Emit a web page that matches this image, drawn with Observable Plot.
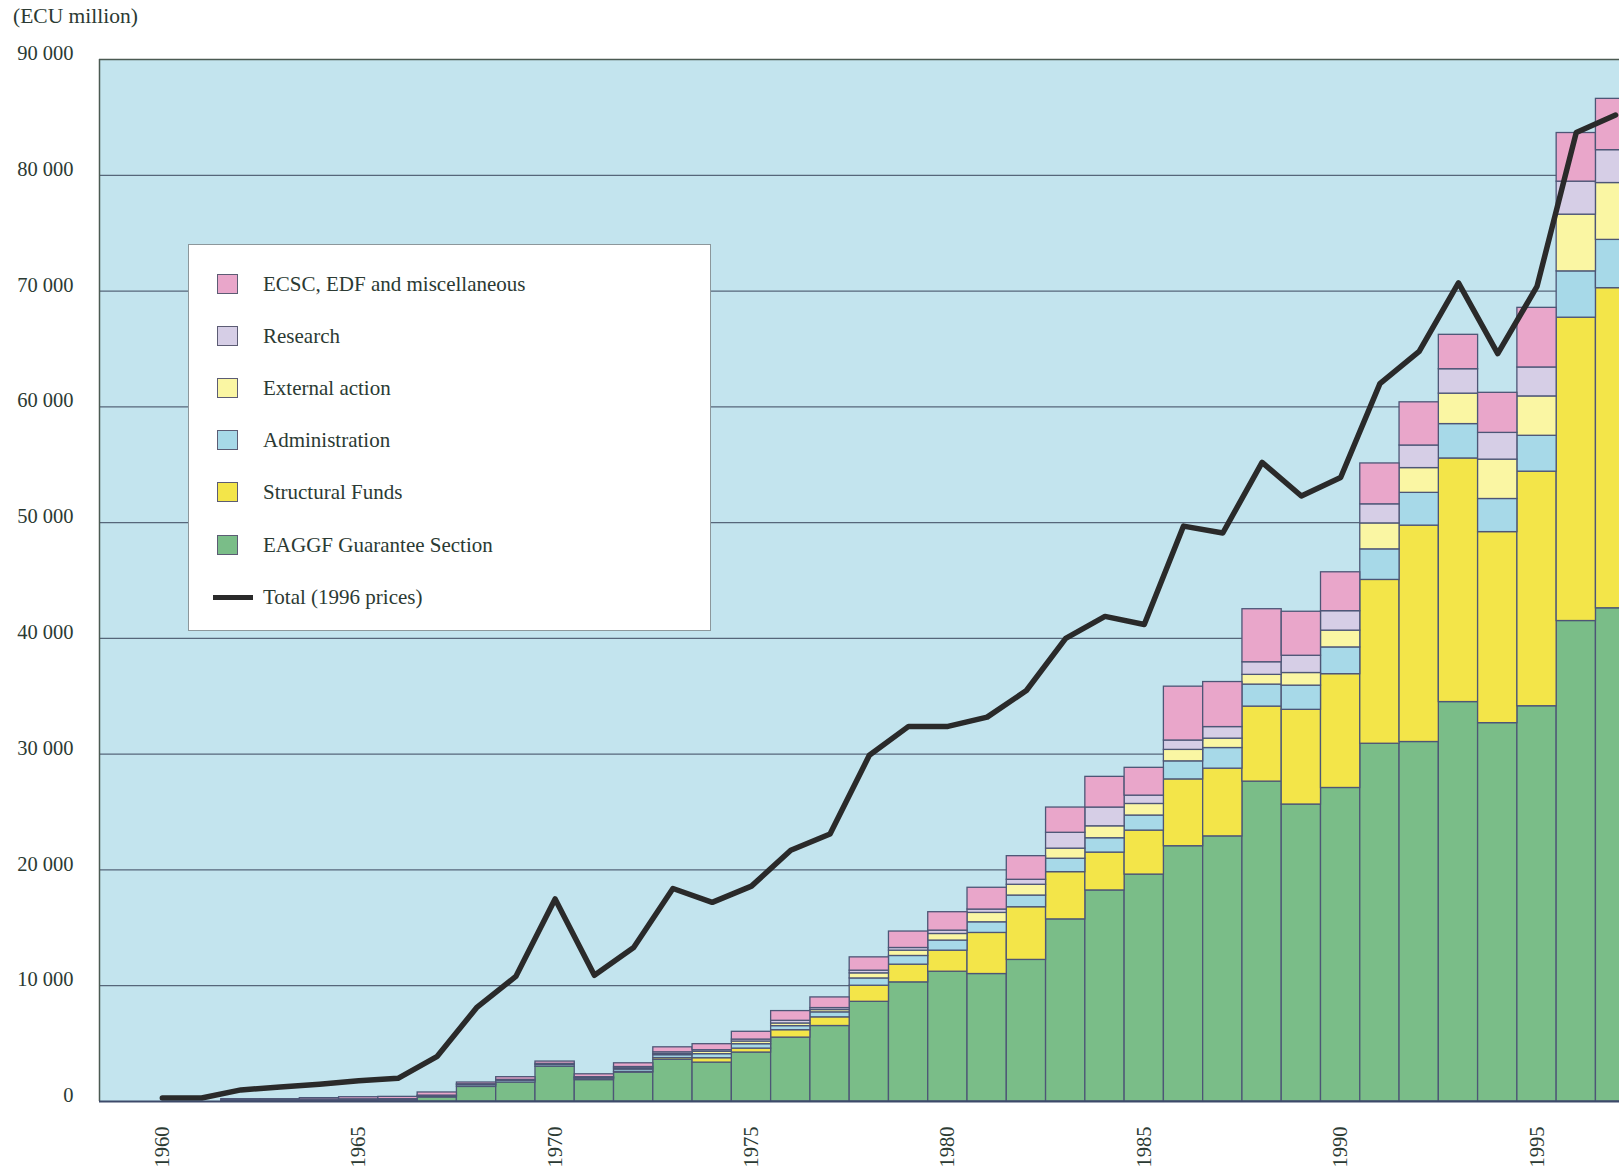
<!DOCTYPE html>
<html>
<head>
<meta charset="utf-8">
<script src="https://cdn.jsdelivr.net/npm/d3@7"></script>
<script src="https://cdn.jsdelivr.net/npm/@observablehq/plot@0.6"></script>
<style>
html, body { margin: 0; padding: 0; background: #ffffff; overflow: hidden; }
#wrap { position: relative; width: 1619px; height: 1171px; font-family: "Liberation Serif", "Times New Roman", serif; color: #2b3a33; }
#unit { position: absolute; left: 13px; top: 5px; font-size: 21.5px; line-height: 22px; white-space: nowrap; }
#chart { position: absolute; left: 0; top: 0; }
#legend { position: absolute; left: 188px; top: 244px; width: 521px; height: 385px; background: #ffffff; border: 1px solid #8c979b; }
.row { position: absolute; left: 0; height: 24px; width: 500px; font-size: 21px; }
.sw { position: absolute; left: 28px; top: 2px; width: 21px; height: 20px; border: 1px solid #5c5c74; box-sizing: border-box; }
.ln { position: absolute; left: 24px; top: 10px; width: 40px; height: 5px; background: #2a2a2a; }
.lab { position: absolute; left: 74px; top: 0; line-height: 24px; white-space: nowrap; }
</style>
</head>
<body>
<div id="wrap">
  <div id="chart"></div>
  <div id="unit"></div>
  <div id="legend"></div>
</div>
<script>
// ---- data (ECU million) ----
const years = [1960,1961,1962,1963,1964,1965,1966,1967,1968,1969,1970,1971,1972,1973,1974,1975,1976,1977,1978,1979,1980,1981,1982,1983,1984,1985,1986,1987,1988,1989,1990,1991,1992,1993,1994,1995,1996,1997];

const eaggf      = [0,0,0,0,0,0,0,350,1260,1640,3000,1850,2500,3600,3360,4230,5520,6520,8610,10290,11210,11010,12230,15730,18230,19600,22050,22900,27630,25650,27080,30900,31050,34500,32680,34140,41500,42600];
const structural = [0,0,0,0,0,0,0,0,0,0,0,0,60,150,380,340,640,750,1390,1530,1820,3550,4550,4080,3270,3800,5770,5850,6480,8180,9830,14150,18690,21040,16500,20260,26200,27650];
const admin      = [0,0,60,70,90,110,120,100,150,150,150,130,200,250,350,380,350,430,630,750,870,920,1010,1160,1240,1300,1560,1780,1900,2090,2310,2640,2830,2970,2860,3100,4000,4170];
const external   = [0,0,0,0,0,0,0,0,0,0,0,40,100,100,200,230,230,200,440,460,570,810,930,870,1030,1000,990,810,840,1090,1450,2240,2140,2630,3400,3400,4900,4910];
const research   = [0,0,40,50,70,80,80,60,80,80,100,80,120,150,140,170,230,170,230,230,290,290,430,1370,1620,720,810,1000,1090,1490,1680,1650,1950,2110,2310,2500,2850,2840];
const ecsc       = [0,0,100,80,130,180,200,270,150,230,200,250,320,430,520,670,840,920,1150,1420,1590,1880,2040,2180,2650,2400,4650,3890,4580,3800,3360,3530,3730,2970,3460,5150,4200,4430];

const total      = [300,300,1000,1250,1500,1800,2000,3900,8100,10800,17500,10900,13300,18400,17200,18600,21700,23100,29900,32400,32400,33200,35500,40000,41900,41200,49700,49100,55200,52300,53900,62000,64800,70700,64600,70400,83700,85200];

const seriesNames  = ["EAGGF Guarantee Section", "Structural Funds", "Administration", "External action", "Research", "ECSC, EDF and miscellaneous"];
const seriesColors = ["#7abd88", "#f3e549", "#a7d9e8", "#faf6a3", "#d6cee6", "#e9a6ca"];
const totalLabel   = "Total (1996 prices)";
const unitLabel    = "(ECU million)";
const yTicks = [0, 10000, 20000, 30000, 40000, 50000, 60000, 70000, 80000, 90000];
const xTicks = [1960, 1965, 1970, 1975, 1980, 1985, 1990, 1995];
const legendOrder = ["ECSC, EDF and miscellaneous", "Research", "External action", "Administration", "Structural Funds", "EAGGF Guarantee Section"];

// ---- build tables ----
const seriesValues = [eaggf, structural, admin, external, research, ecsc];
const rows = years.map((yr, i) => {
  const r = {year: yr};
  seriesNames.forEach((s, k) => r[s] = seriesValues[k][i]);
  return r;
});
const stacked = d3.stack().keys(seriesNames)(rows);
const segs = stacked.flatMap((layer, k) =>
  layer.map(d => ({year: d.data.year, series: seriesNames[k], y1: d[0], y2: d[1]}))
).filter(d => d.y2 > d.y1);
const lineData = years.map((yr, i) => ({year: yr, total: total[i]}));

const fmt = d => d3.format(",")(d).replace(/,/g, " ");
const xDomain = [1958.4, 1997.1];

const plot = Plot.plot({
  width: 1619,
  height: 1171,
  marginTop: 59,
  marginBottom: 70,
  marginLeft: 99,
  marginRight: 0,
  style: {fontFamily: '"Liberation Serif", "Times New Roman", serif', fontSize: "20.5px", color: "#2b3a33", background: "transparent"},
  x: {type: "linear", domain: xDomain, label: null},
  y: {domain: [0, 90000], label: null},
  color: {domain: seriesNames, range: seriesColors},
  marks: [
    Plot.frame({fill: "#c3e4ee", stroke: null}),
    Plot.ruleY(yTicks.filter(v => v > 0 && v < 90000), {stroke: "#56667a", strokeWidth: 1.2}),
    Plot.rect(segs, {
      x1: d => d.year - 0.5, x2: d => d.year + 0.5,
      y1: "y1", y2: "y2", fill: "series",
      stroke: "#4d5676", strokeWidth: 1.3, clip: true
    }),
    Plot.line(lineData, {x: "year", y: "total", stroke: "#2a2a2a", strokeWidth: 5.5, strokeLinejoin: "round", strokeLinecap: "round"}),
    Plot.ruleY([90000], {stroke: "#4b5a52", strokeWidth: 1.5}),
    Plot.ruleX([xDomain[0]], {stroke: "#4b5a52", strokeWidth: 1.5}),
    Plot.ruleY([0], {stroke: "#3d4a6a", strokeWidth: 1.8}),
    Plot.axisY({ticks: yTicks, tickFormat: fmt, tickSize: 0, tickPadding: 26, dy: -6}),
    Plot.axisX({ticks: xTicks, tickFormat: d => String(d), tickSize: 0, tickPadding: 25, tickRotate: -90})
  ]
});
document.getElementById("chart").appendChild(plot);

// ---- unit label ----
document.getElementById("unit").textContent = unitLabel;

// ---- legend ----
const legend = document.getElementById("legend");
const colorOf = Object.fromEntries(seriesNames.map((s, k) => [s, seriesColors[k]]));
const items = legendOrder.map(s => ({label: s, color: colorOf[s], line: false}))
  .concat([{label: totalLabel, line: true}]);
items.forEach((it, i) => {
  const row = document.createElement("div");
  row.className = "row";
  row.style.top = (39 + 52.1 * i - 12) + "px";
  const sw = document.createElement("div");
  if (it.line) { sw.className = "ln"; } else { sw.className = "sw"; sw.style.background = it.color; }
  const lab = document.createElement("div");
  lab.className = "lab";
  lab.textContent = it.label;
  row.appendChild(sw);
  row.appendChild(lab);
  legend.appendChild(row);
});
</script>
</body>
</html>
